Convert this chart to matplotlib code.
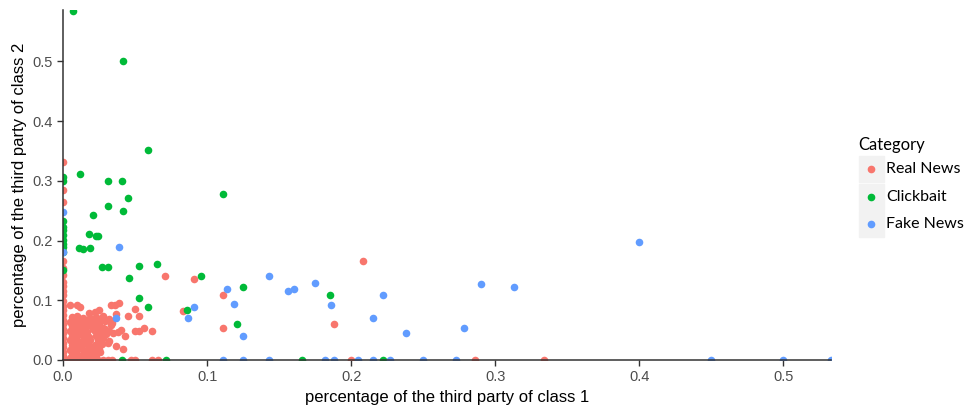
import numpy as np
import matplotlib.pyplot as plt
from matplotlib.patches import Rectangle
from matplotlib.lines import Line2D

CATEGORIES = ["Real News", "Clickbait", "Fake News"]
COLORS = ["#F8766D", "#00BA38", "#619CFF"]

# Real News points (class 1 share, class 2 share)
real_x = [
    # along the y axis
    0.0, 0.0, 0.0, 0.0, 0.0, 0.0, 0.0, 0.0, 0.0, 0.0, 0.0, 0.0, 0.0, 0.0,
    0.0, 0.0, 0.0, 0.0, 0.0, 0.0, 0.0, 0.0, 0.0, 0.0,
    # dense block near the origin
    0.006, 0.010, 0.014, 0.019, 0.023, 0.027,
    0.005, 0.009, 0.013, 0.017, 0.021, 0.025, 0.029,
    0.006, 0.011, 0.015, 0.020, 0.024, 0.028, 0.033,
    0.005, 0.009, 0.013, 0.017, 0.022, 0.026,
    0.006, 0.010, 0.014, 0.018, 0.023, 0.030, 0.035,
    0.005, 0.009, 0.013, 0.016, 0.019, 0.024,
    0.006, 0.010, 0.014, 0.018, 0.022, 0.027, 0.031,
    0.005, 0.009, 0.013, 0.017, 0.021, 0.025,
    0.006, 0.010, 0.014, 0.018, 0.023,
    0.005, 0.008, 0.012, 0.016, 0.020,
    # filler inside the block
    0.008, 0.012, 0.016, 0.020, 0.007, 0.011, 0.015, 0.021, 0.008, 0.012,
    0.016, 0.027, 0.007, 0.011, 0.020, 0.026, 0.029, 0.032, 0.034, 0.028,
    # bottom row
    0.004, 0.008, 0.012, 0.016, 0.020, 0.024, 0.028, 0.031, 0.034,
    0.047, 0.050, 0.062, 0.066,
    # upper edge of the block
    0.005, 0.010, 0.012, 0.025, 0.022, 0.018, 0.028, 0.032, 0.031,
    0.033, 0.036, 0.039, 0.037, 0.045, 0.050, 0.053,
    0.038, 0.040, 0.043, 0.037, 0.042, 0.050, 0.053, 0.056, 0.062,
    0.032, 0.026,
    # scattered
    0.071, 0.091, 0.111, 0.083, 0.111, 0.208, 0.188,
    0.200, 0.286, 0.334,
]
real_y = [
    0.332, 0.285, 0.265, 0.165, 0.154, 0.142, 0.131, 0.124, 0.115, 0.108,
    0.099, 0.091, 0.083, 0.076, 0.067, 0.060, 0.052, 0.045, 0.037, 0.029,
    0.021, 0.014, 0.006, 0.0,
    0.072, 0.073, 0.071, 0.070, 0.072, 0.069,
    0.064, 0.066, 0.063, 0.065, 0.064, 0.062, 0.066,
    0.057, 0.056, 0.058, 0.055, 0.057, 0.054, 0.059,
    0.049, 0.048, 0.050, 0.047, 0.049, 0.046,
    0.041, 0.040, 0.042, 0.039, 0.041, 0.043, 0.045,
    0.033, 0.034, 0.032, 0.031, 0.034, 0.033,
    0.025, 0.024, 0.026, 0.023, 0.025, 0.027, 0.028,
    0.017, 0.016, 0.018, 0.017, 0.015, 0.019,
    0.009, 0.010, 0.008, 0.011, 0.009,
    0.003, 0.004, 0.002, 0.003, 0.004,
    0.068, 0.068, 0.067, 0.061, 0.060, 0.052, 0.053, 0.052, 0.045, 0.045,
    0.037, 0.036, 0.029, 0.029, 0.021, 0.013, 0.052, 0.049, 0.062, 0.036,
    0.0, 0.0, 0.0, 0.0, 0.0, 0.0, 0.0, 0.0, 0.0,
    0.0, 0.0, 0.0, 0.0,
    0.092, 0.092, 0.089, 0.084, 0.080, 0.078, 0.074, 0.068, 0.067,
    0.092, 0.092, 0.096, 0.077, 0.074, 0.085, 0.074,
    0.047, 0.051, 0.041, 0.023, 0.019, 0.049, 0.049, 0.054, 0.049,
    0.031, 0.027,
    0.141, 0.135, 0.109, 0.082, 0.054, 0.165, 0.060,
    0.0, 0.0, 0.0,
]

# Clickbait points
click_x = [
    0.007, 0.042, 0.059, 0.012, 0.031, 0.041, 0.111,
    0.045, 0.031, 0.042, 0.021, 0.018, 0.023, 0.0245, 0.011, 0.014, 0.019,
    0.027, 0.031, 0.053, 0.065, 0.046, 0.096, 0.125, 0.053, 0.059, 0.086,
    0.121, 0.185,
    0.041, 0.0715, 0.166, 0.222,
    0.0, 0.0, 0.0, 0.0, 0.0, 0.0, 0.0, 0.0, 0.0, 0.0, 0.0,
]
click_y = [
    0.585, 0.500, 0.352, 0.311, 0.299, 0.299, 0.278,
    0.271, 0.257, 0.250, 0.243, 0.211, 0.208, 0.208, 0.188, 0.186, 0.188,
    0.155, 0.155, 0.157, 0.161, 0.137, 0.141, 0.123, 0.103, 0.088, 0.084,
    0.060, 0.109,
    0.0, 0.0, 0.0, 0.0,
    0.307, 0.299, 0.232, 0.223, 0.218, 0.209, 0.201, 0.195, 0.190, 0.181,
    0.151,
]

# Fake News points
fake_x = [
    0.039, 0.037, 0.087, 0.091, 0.114, 0.119, 0.125, 0.143, 0.156, 0.160,
    0.175, 0.186, 0.222, 0.215, 0.238, 0.278, 0.290, 0.313, 0.400,
    0.111, 0.125, 0.143, 0.182, 0.188, 0.205, 0.215, 0.227, 0.250, 0.273,
    0.450, 0.500, 0.533,
    0.0, 0.0,
]
fake_y = [
    0.190, 0.071, 0.071, 0.089, 0.119, 0.093, 0.040, 0.141, 0.115, 0.119,
    0.129, 0.092, 0.109, 0.070, 0.046, 0.054, 0.127, 0.123, 0.198,
    0.0, 0.0, 0.0, 0.0, 0.0, 0.0, 0.0, 0.0, 0.0, 0.0,
    0.0, 0.0, 0.0,
    0.248, 0.181,
]

X_TICKS = [0.0, 0.1, 0.2, 0.3, 0.4, 0.5]
Y_TICKS = [0.0, 0.1, 0.2, 0.3, 0.4, 0.5]

plt.rcParams['font.family'] = ['Liberation Sans', 'DejaVu Sans']

fig = plt.figure(figsize=(9.66, 4.11), dpi=100)
ax = fig.add_axes([0.0652, 0.1241, 0.795, 0.8516])

series = [(real_x, real_y), (click_x, click_y), (fake_x, fake_y)]
for (xs, ys), color, name in zip(series, COLORS, CATEGORIES):
    ax.scatter(xs, ys, s=30, color=color, linewidths=0, label=name, zorder=3)

ax.set_xlim(0, 0.533)
ax.set_ylim(0, 0.586)
ax.set_xticks(X_TICKS)
ax.set_xticklabels([f"{t:.1f}" for t in X_TICKS])
ax.set_yticks(Y_TICKS)
ax.set_yticklabels([f"{t:.1f}" for t in Y_TICKS])

for side in ['top', 'right']:
    ax.spines[side].set_visible(False)
for side in ['left', 'bottom']:
    ax.spines[side].set_color('#333333')
    ax.spines[side].set_linewidth(1.1)
    ax.spines[side].set_zorder(4)
ax.tick_params(colors='#333333', labelcolor='#4D4D4D', labelsize=10.5,
               length=4, width=1.0)

ax.set_xlabel("percentage of the third party of class 1", fontsize=12, color='black')
ax.set_ylabel("percentage of the third party of class 2", fontsize=12, color='black')

# legend drawn by hand so the keys get the grey ggplot backgrounds
W, H = 966.0, 411.0
fig.text(858 / W, 1 - 145 / H, "Category", fontsize=12, family=['Lato', 'DejaVu Sans'],
         va='center', ha='left')
key_tops = [156, 184, 211]
for top, color, name in zip(key_tops, COLORS, CATEGORIES):
    fig.patches.append(Rectangle((859 / W, 1 - (top + 26) / H), 25 / W, 26 / H,
                                 transform=fig.transFigure, color='#F2F2F2', zorder=1))
    cy = 1 - (top + 13) / H
    fig.lines.append(Line2D([871 / W], [cy], transform=fig.transFigure, marker='o',
                            markersize=4.5, color=color, linestyle='none', zorder=2))
    fig.text(886 / W, cy, name, fontsize=11.5, family=['Lato', 'DejaVu Sans'],
             va='center', ha='left')

plt.savefig("out.png", dpi=100)
plt.close()
